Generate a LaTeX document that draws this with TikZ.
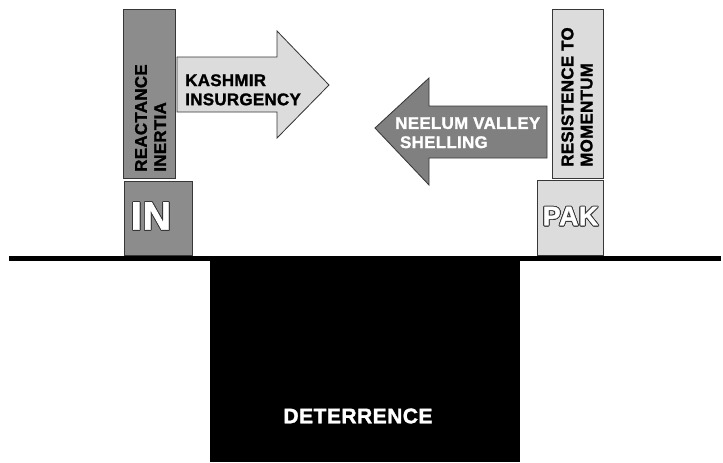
\documentclass[tikz,border=0pt]{standalone}
\usepackage{fontspec}
\setmainfont{Liberation Sans}[BoldFont={Liberation Sans Bold},
  BoldFeatures={FakeBold=1.6,LetterSpace=2}]
\usepackage[copies]{contour}
\contourlength{0.6pt}
\definecolor{darkbox}{RGB}{140,140,140}
\definecolor{darkarrow}{RGB}{128,128,128}
\definecolor{lightbox}{RGB}{220,220,220}
\definecolor{edgegray}{RGB}{55,55,55}

\begin{document}
\begin{tikzpicture}[x=0.025cm,y=-0.025cm,
    block/.style={draw=edgegray,line width=0.6pt},
    word/.style={font=\bfseries\fontsize{12}{13.6}\selectfont,align=left,inner sep=0pt}]
  \useasboundingbox (0,0) rectangle (723,462);

  % Define the corners of the blocks
  \coordinate (inbarA) at (123,9);   \coordinate (inbarB) at (175,178);
  \coordinate (inA) at (124,181);    \coordinate (inB) at (192,255);
  \coordinate (pakbarA) at (552,9);  \coordinate (pakbarB) at (603,178);
  \coordinate (pakA) at (537,180);   \coordinate (pakB) at (603,255);

  % Draw the blocks
  \draw[block,fill=darkbox] (inbarA) rectangle (inbarB);
  \draw[block,fill=darkbox] (inA) rectangle (inB);
  \draw[block,fill=lightbox] (pakbarA) rectangle (pakbarB);
  \draw[block,fill=lightbox] (pakA) rectangle (pakB);

  % Draw the two arrows
  \draw[block,fill=lightbox] (177,57) -- (277,57) -- (277,31) -- (329,85)
    -- (277,138) -- (277,112) -- (177,112) -- cycle;
  \draw[block,fill=darkarrow] (547,106) -- (429,106) -- (429,78) -- (375,128)
    -- (429,185) -- (429,158) -- (547,158) -- cycle;

  % Draw the ground and the deterrence block
  \fill (210,258) rectangle (520,462);
  \draw[line width=3.5pt] (9,258.5) -- (721,258.5);

  % Labels
  \node[word,rotate=90,anchor=west] (inertia) at (150.5,172) {REACTANCE\\INERTIA};
  \node[word,rotate=90,anchor=west] (momentum) at (577,167) {RESISTENCE TO\\MOMENTUM};
  \node[word,anchor=north west] (kashmir) at (185,74) {KASHMIR\\INSURGENCY};
  \node[word,text=white,anchor=north west] (neelum) at (395,117)
    {NEELUM VALLEY\\\hspace{0.12cm}SHELLING};
  \node[word,text=white,font=\bfseries\fontsize{28}{28}\selectfont] (in) at (151,216.5)
    {\contour{edgegray}{IN}};
  \node[word,text=white,font=\bfseries\fontsize{19}{19}\selectfont] (pak) at (570.5,216.5)
    {\contour{edgegray}{PAK}};
  \node[word,text=white,font=\bfseries\fontsize{15}{15}\selectfont] (deterrence) at (358,416)
    {DETERRENCE};
\end{tikzpicture}
\end{document}
